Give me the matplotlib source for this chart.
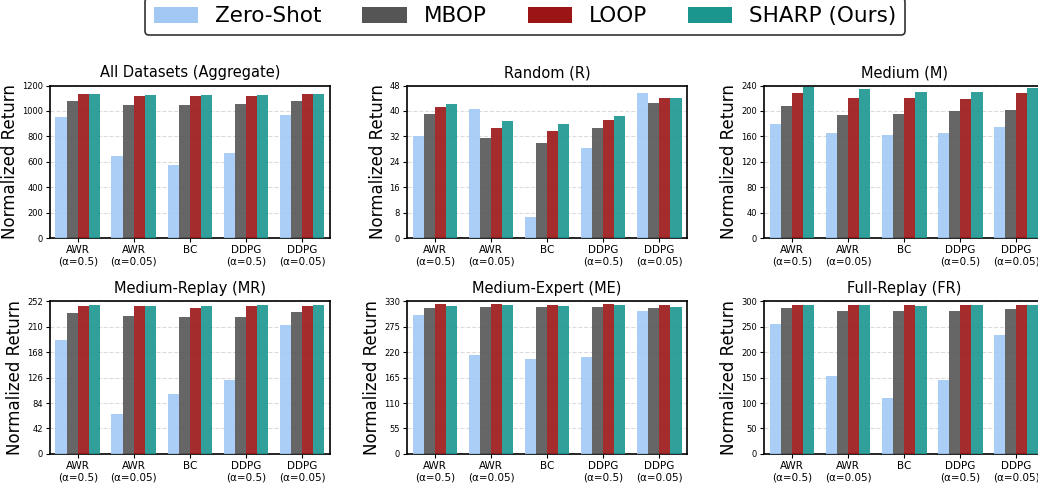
import matplotlib
matplotlib.use("Agg")
import matplotlib.pyplot as plt
from matplotlib.patches import Patch
import numpy as np

# group labels along x
groups = ['AWR\n(α=0.5)', 'AWR\n(α=0.05)', 'BC', 'DDPG\n(α=0.5)', 'DDPG\n(α=0.05)']
methods = ['Zero-Shot', 'MBOP', 'LOOP', 'SHARP (Ours)']
colors = ['#a1c9f4', '#555555', '#9b1515', '#1a968f']

titles = ['All Datasets (Aggregate)', 'Random (R)', 'Medium (M)',
          'Medium-Replay (MR)', 'Medium-Expert (ME)', 'Full-Replay (FR)']
y_max = [1200, 48, 240, 252, 330, 300]

# values, per panel: Zero-Shot, MBOP, LOOP, SHARP
agg_zs = [956, 642, 579, 673, 972]
agg_mbop = [1082, 1050, 1050, 1058, 1082]
agg_loop = [1130, 1115, 1115, 1115, 1137]
agg_sharp = [1137, 1129, 1122, 1129, 1137]

rnd_zs = [32.0, 40.7, 6.8, 28.5, 45.6]
rnd_mbop = [38.9, 31.4, 29.8, 34.5, 42.5]
rnd_loop = [41.2, 34.8, 33.6, 37.1, 44.1]
rnd_sharp = [42.1, 36.7, 35.8, 38.3, 44.1]

med_zs = [179.5, 165.3, 161.6, 165.3, 174.2]
med_mbop = [207.4, 193.2, 194.7, 199.5, 201.0]
med_loop = [227.9, 220.0, 220.0, 218.4, 228.0]
med_sharp = [237.4, 234.2, 229.5, 229.5, 236.0]

mr_zs = [188.6, 66.2, 99.3, 122.4, 213.5]
mr_mbop = [233.3, 228.3, 226.7, 226.7, 235.0]
mr_loop = [244.9, 244.9, 241.6, 244.9, 244.9]
mr_sharp = [246.5, 244.9, 244.9, 246.5, 246.5]

me_zs = [301.0, 214.4, 205.8, 210.0, 309.7]
me_mbop = [316.0, 318.4, 318.4, 318.4, 316.2]
me_loop = [325.0, 325.0, 322.7, 325.0, 322.7]
me_sharp = [320.6, 322.7, 320.6, 322.7, 318.4]

fr_zs = [256.0, 153.6, 110.3, 145.8, 234.4]
fr_mbop = [287.6, 281.7, 281.7, 281.7, 285.6]
fr_loop = [293.5, 293.5, 293.5, 293.5, 293.5]
fr_sharp = [293.5, 293.5, 291.5, 293.5, 293.5]

panels = [
    [agg_zs, agg_mbop, agg_loop, agg_sharp],
    [rnd_zs, rnd_mbop, rnd_loop, rnd_sharp],
    [med_zs, med_mbop, med_loop, med_sharp],
    [mr_zs, mr_mbop, mr_loop, mr_sharp],
    [me_zs, me_mbop, me_loop, me_sharp],
    [fr_zs, fr_mbop, fr_loop, fr_sharp],
]

fig = plt.figure(figsize=(10.38, 4.86), dpi=100)

# right column runs past the figure edge, like the reference
col_left = [0.048, 0.392, 0.736]
row_bottom = [0.510, 0.066]
ax_w, ax_h = 0.270, 0.314

x = np.arange(len(groups))
width = 0.2

for i, (title, top, vals) in enumerate(zip(titles, y_max, panels)):
    r, c = divmod(i, 3)
    ax = fig.add_axes([col_left[c], row_bottom[r], ax_w, ax_h])
    for j, series in enumerate(vals):
        ax.bar(x + (j - 1.5) * width, series, width, color=colors[j],
               alpha=0.9, zorder=3)
    ax.set_xlim(-0.5, 4.5)
    ax.set_ylim(0, top)
    ax.set_yticks(np.linspace(0, top, 7))
    ax.set_xticks(x)
    ax.set_xticklabels(groups, fontsize=7.5)
    ax.tick_params(axis='y', labelsize=6, length=3, pad=2)
    ax.tick_params(axis='x', length=3, pad=2)
    ax.grid(axis='y', linestyle='--', color='#cccccc', alpha=0.7, linewidth=0.8, zorder=0)
    ax.set_title(title, fontsize=10.5)
    ax.set_ylabel('Normalized Return', fontsize=12, labelpad=2)
    for s in ax.spines.values():
        s.set_linewidth(1.2)

handles = [Patch(facecolor=col, label=m) for col, m in zip(colors, methods)]
leg = fig.legend(handles=handles, loc='lower center', bbox_to_anchor=(0.506, 0.928),
                 ncol=4, frameon=True, fancybox=True, fontsize=15.5,
                 columnspacing=1.9, handlelength=2.05, handleheight=0.8,
                 handletextpad=0.8, borderaxespad=0)
leg.get_frame().set_edgecolor('black')
leg.get_frame().set_linewidth(1.2)

fig.savefig('out.png', dpi=100)
